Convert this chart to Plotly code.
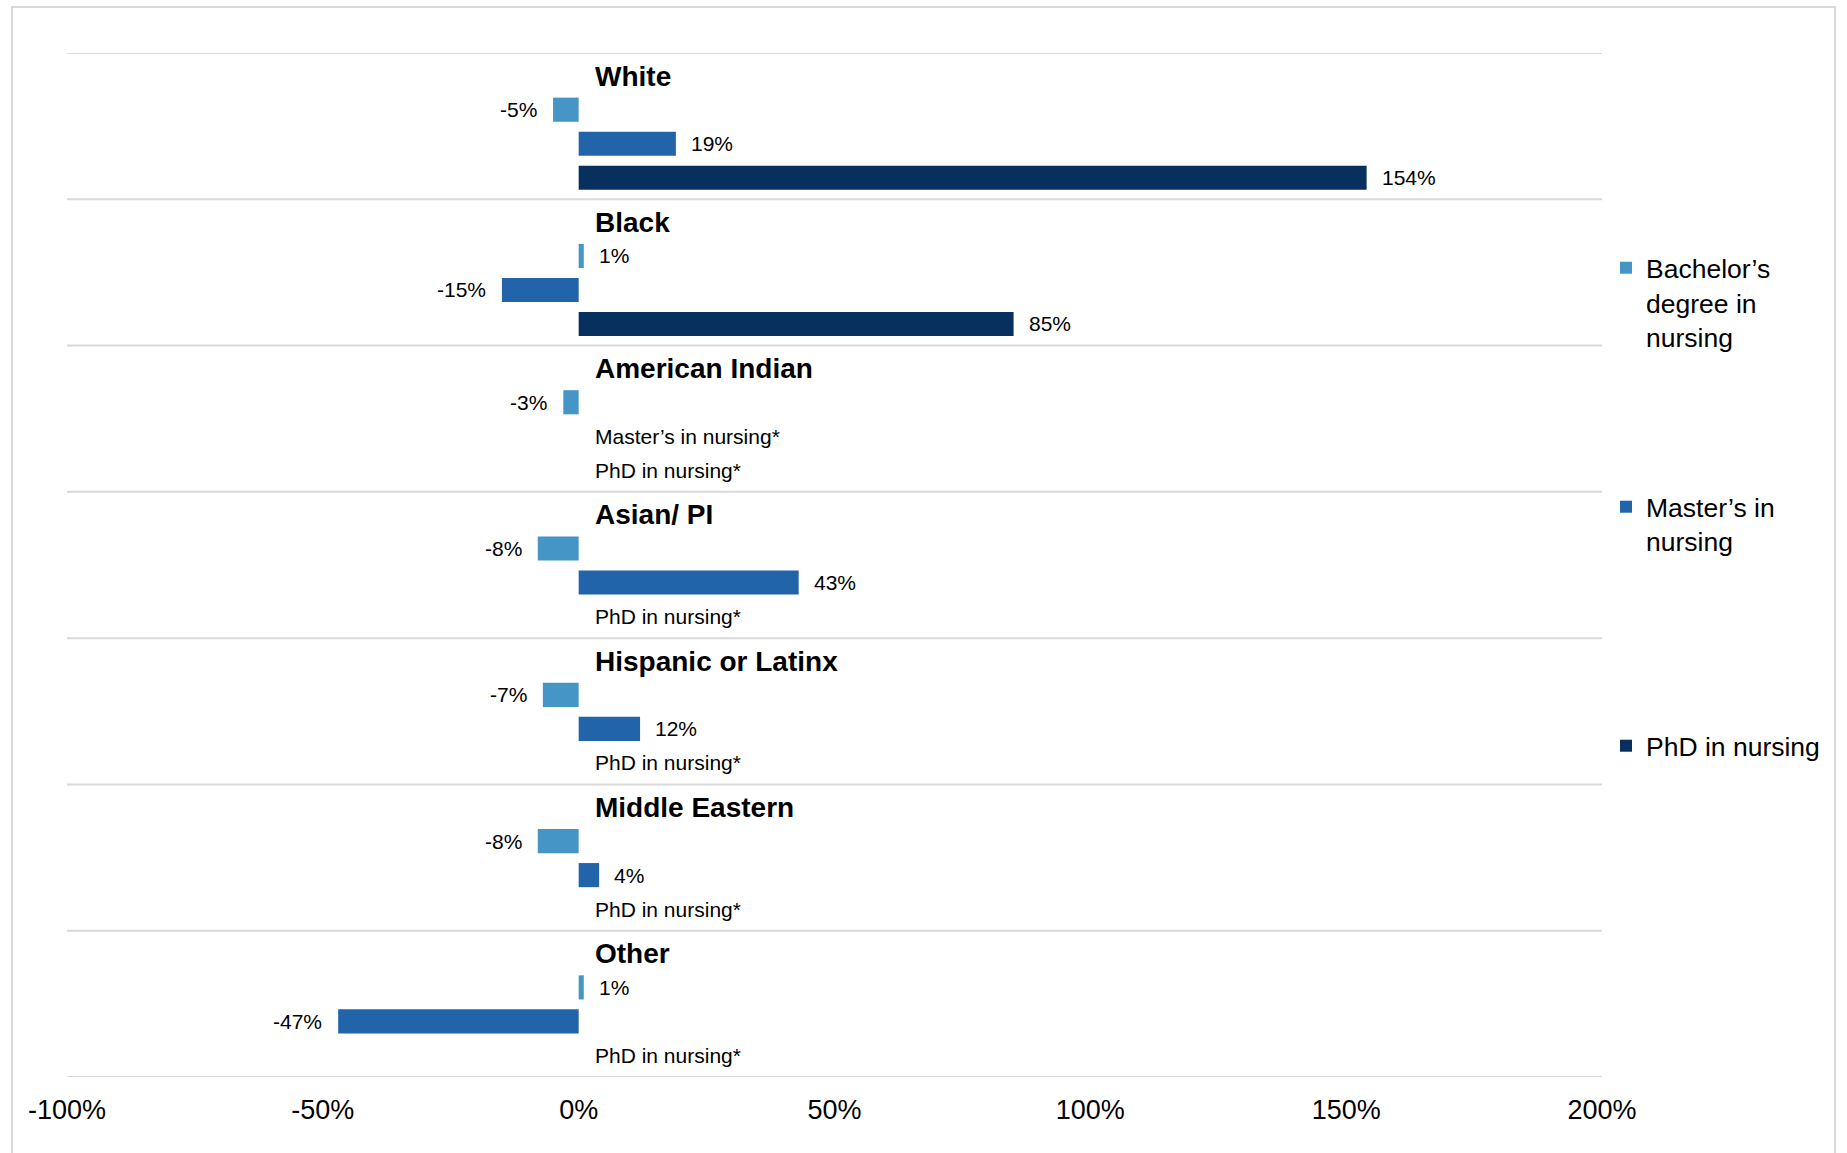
import plotly.graph_objects as go

# Percent change by race/ethnicity and nursing degree level
groups = ["White", "Black", "American Indian", "Asian/ PI",
          "Hispanic or Latinx", "Middle Eastern", "Other"]
bachelors = [-5, 1, -3, -8, -7, -8, 1]
masters = [19, -15, None, 43, 12, 4, -47]
phd = [154, 85, None, None, None, None, None]

series_names = ["Bachelor’s degree in nursing", "Master’s in nursing", "PhD in nursing"]
legend_labels = ["Bachelor’s<br>degree in<br>nursing", "Master’s in<br>nursing", "PhD in nursing"]
colors = ["#4595C6", "#2264AA", "#08305F"]

x_ticks = [-100, -50, 0, 50, 100, 150, 200]
x_ticktext = [f"{t}%" for t in x_ticks]

FONT = "Liberation Sans, Arial, sans-serif"
W, H = 1847, 1153
ML, MR, MT, MB = 67, 245, 53, 76
PW, PH = W - ML - MR, H - MT - MB

# each group occupies four rows: a heading row and one row per degree
ROWS_PER_GROUP = 4
title_off = 0.13
bar_off = [1.05, 1.98, 2.91]

series = [bachelors, masters, phd]

fig = go.Figure()
annotations = []
for s, (name, vals, col) in enumerate(zip(series_names, series, colors)):
    ys = [g * ROWS_PER_GROUP + bar_off[s] for g in range(len(groups))]
    fig.add_trace(go.Bar(
        x=vals, y=ys, orientation="h", name=legend_labels[s],
        marker=dict(color=col, line=dict(width=0)),
        width=0.66, legend="legend" if s == 0 else f"legend{s + 1}",
        hovertemplate=name + ": %{x}%<extra></extra>",
    ))
    for y, v in zip(ys, vals):
        if v is None:
            annotations.append(dict(
                x=0, y=y, xref="x", yref="y", text=name + "*",
                xanchor="left", yanchor="middle", xshift=14, showarrow=False,
                font=dict(family=FONT, size=21, color="#000000")))
        else:
            annotations.append(dict(
                x=v, y=y, xref="x", yref="y", text=f"{v}%",
                xanchor="left" if v >= 0 else "right", yanchor="middle",
                xshift=13 if v >= 0 else -14, showarrow=False,
                font=dict(family=FONT, size=21, color="#000000")))

for g, name in enumerate(groups):
    annotations.append(dict(
        x=0, y=g * ROWS_PER_GROUP + title_off, xref="x", yref="y",
        text=f"<b>{name}</b>", xanchor="left", yanchor="middle", xshift=14,
        showarrow=False, font=dict(family=FONT, size=28, color="#000000")))

shapes = []
for g in range(len(groups) + 1):
    yv = g * ROWS_PER_GROUP - 0.5
    shapes.append(dict(type="line", xref="paper", yref="y", x0=0, x1=1,
                       y0=yv, y1=yv, line=dict(color="#D9D9D9", width=2),
                       layer="below"))


def px_x(p):
    return (p - ML) / PW


def px_y(p):
    return 1 - (p - MT) / PH


# chart frame
shapes.append(dict(type="rect", xref="paper", yref="paper",
                   x0=px_x(12), x1=px_x(1835), y0=px_y(1165), y1=px_y(7),
                   line=dict(color="#D9D9D9", width=2), fillcolor="rgba(0,0,0,0)"))

n_rows = len(groups) * ROWS_PER_GROUP
legend_common = dict(
    x=px_x(1606), xanchor="left", yanchor="top",
    font=dict(family=FONT, size=26.5, color="#000000"),
    bgcolor="rgba(0,0,0,0)", valign="top", itemclick=False, itemdoubleclick=False,
)
fig.update_layout(
    width=W, height=H,
    margin=dict(l=ML, r=MR, t=MT, b=MB),
    plot_bgcolor="white", paper_bgcolor="white",
    barmode="overlay",
    showlegend=True,
    xaxis=dict(range=[-100, 200], tickvals=x_ticks, ticktext=x_ticktext,
               showgrid=False, zeroline=False, showline=False, ticks="",
               ticklabelstandoff=14,
               tickfont=dict(family=FONT, size=27, color="#000000")),
    yaxis=dict(range=[n_rows - 0.5, -0.5], visible=False, showgrid=False,
               zeroline=False),
    legend=dict(y=px_y(244), **legend_common),
    legend2=dict(y=px_y(483), **legend_common),
    legend3=dict(y=px_y(722), **legend_common),
    annotations=annotations,
    shapes=shapes,
)

fig.write_html("out.html")
